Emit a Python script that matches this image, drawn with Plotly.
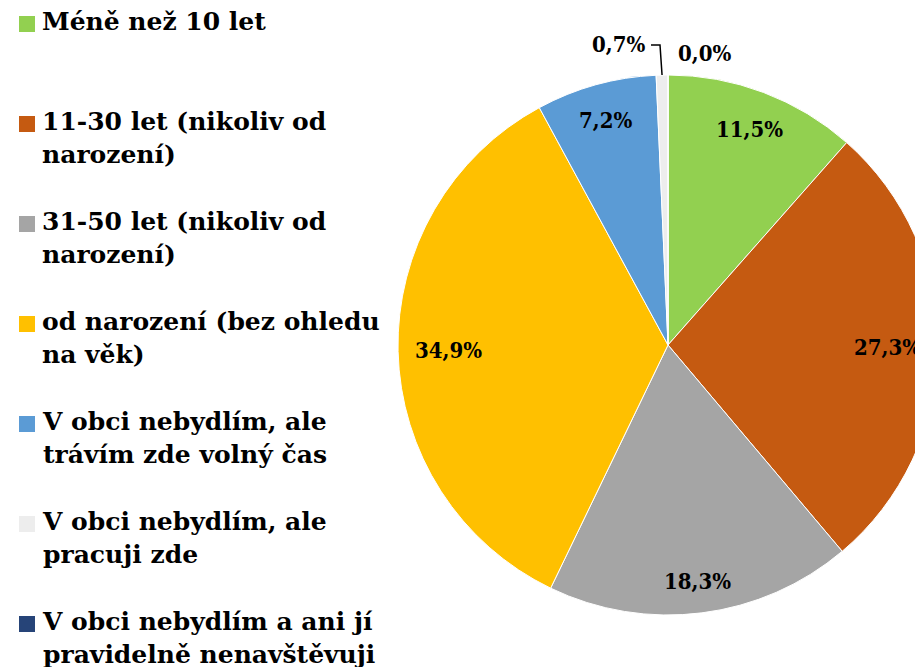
import math
import plotly.graph_objects as go

# ---- data ----
categories = [
    "Méně než 10 let",
    "11-30 let (nikoliv od narození)",
    "31-50 let (nikoliv od narození)",
    "od narození (bez ohledu na věk)",
    "V obci nebydlím, ale trávím zde volný čas",
    "V obci nebydlím, ale pracuji zde",
    "V obci nebydlím a ani jí pravidelně nenavštěvuji",
]
legend_labels = [
    "Méně než 10 let",
    "11-30 let (nikoliv od<br>narození)",
    "31-50 let (nikoliv od<br>narození)",
    "od narození (bez ohledu<br>na věk)",
    "V obci nebydlím, ale<br>trávím zde volný čas",
    "V obci nebydlím, ale<br>pracuji zde",
    "V obci nebydlím a ani jí<br>pravidelně nenavštěvuji",
]
values = [11.5, 27.3, 18.3, 34.9, 7.2, 0.7, 0.0]
colors = ["#92D050", "#C55A11", "#A5A5A5", "#FFC000", "#5B9BD5", "#EDEDED", "#264478"]
outside_idx = [5, 6]

def fmt(v):
    return f"{v:.1f}".replace(".", ",") + "%"

# ---- layout constants (figure pixels; page body adds an 8px offset) ----
OFF = 8
W, H = 940, 720
CX, CY, R = 668 - OFF, 345 - OFF, 270
LEG_FONT = "DejaVu Serif, serif"
LEG_SIZE = 25
LBL_FONT = "DejaVu Serif Condensed, DejaVu Serif, serif"
LBL_SIZE = 22
LEG_X_TEXT, LEG_X_BOX, BOX = 40, 19, 16
LEG_Y0, LEG_STEP = 22, 100

def px(x, y):
    """screen pixel -> paper fraction"""
    return (x - OFF) / W, 1 - (y - OFF) / H

fig = go.Figure()
fig.add_trace(go.Pie(
    labels=categories,
    values=values,
    textinfo="none",
    marker=dict(colors=colors, line=dict(color="white", width=1)),
    sort=False,
    direction="clockwise",
    rotation=0,
    hoverinfo="label+percent",
    showlegend=False,
    domain=dict(x=[(CX - R) / W, (CX + R) / W], y=[1 - (CY + R) / H, 1 - (CY - R) / H]),
))

# slice mid-angles (clockwise from 12 o'clock)
total = sum(values)
cum = 0
mids = []
for v in values:
    mids.append((cum + v / 2) / total * 2 * math.pi)
    cum += v

lbl_font = dict(family=LBL_FONT, size=LBL_SIZE, color="black", weight="bold")
annotations = []
shapes = []
HW, HH, INSET = 33, 11, 17
for i, v in enumerate(values):
    if i in outside_idx:
        continue
    a = mids[i]
    s, c = math.sin(a), math.cos(a)
    d = R - INSET - (HW * abs(s) + HH * abs(c))
    x = CX + d * s
    y = CY - d * c
    annotations.append(dict(x=x / W, y=1 - y / H, xref="paper", yref="paper",
                            xanchor="center", yanchor="middle",
                            text=fmt(v), showarrow=False, font=lbl_font))

# 0,7 % with leader line
a = mids[5]
ex, ey = CX + R * math.sin(a), CY - R * math.cos(a)
lx, ly = px(618, 44)
annotations.append(dict(x=lx, y=ly, xref="paper", yref="paper", xanchor="center", yanchor="middle",
                        text=fmt(values[5]), showarrow=False, font=lbl_font))
p1 = px(651, 45); p2 = px(660, 45)
p3 = (ex / W, 1 - ey / H)
shapes.append(dict(type="path", xref="paper", yref="paper",
                   path=f"M {p1[0]},{p1[1]} L {p2[0]},{p2[1]} L {p3[0]},{p3[1]}",
                   line=dict(color="black", width=1.5)))
# 0,0 %
lx, ly = px(704, 53)
annotations.append(dict(x=lx, y=ly, xref="paper", yref="paper", xanchor="center", yanchor="middle",
                        text=fmt(values[6]), showarrow=False, font=lbl_font))

# legend (swatch + wrapped label for each category)
leg_font = dict(family=LEG_FONT, size=LEG_SIZE, color="black", weight="bold")
half_line = LEG_SIZE * 1.3 / 2
for i, (lab, col) in enumerate(zip(legend_labels, colors)):
    yc = LEG_Y0 + LEG_STEP * i
    tx, ty = px(LEG_X_TEXT, yc - half_line - 1)
    annotations.append(dict(x=tx, y=ty, xref="paper", yref="paper", xanchor="left", yanchor="top",
                            align="left", text=lab, showarrow=False, font=leg_font))
    b0 = px(LEG_X_BOX, yc + 2 - BOX / 2)
    b1 = px(LEG_X_BOX + BOX, yc + 2 + BOX / 2)
    shapes.append(dict(type="rect", xref="paper", yref="paper",
                       x0=b0[0], x1=b1[0], y0=b1[1], y1=b0[1],
                       fillcolor=col, line=dict(width=0)))

fig.update_layout(
    width=W, height=H,
    margin=dict(l=0, r=0, t=0, b=0),
    paper_bgcolor="white",
    plot_bgcolor="white",
    showlegend=False,
    annotations=annotations,
    shapes=shapes,
)

fig.write_html("out.html")
